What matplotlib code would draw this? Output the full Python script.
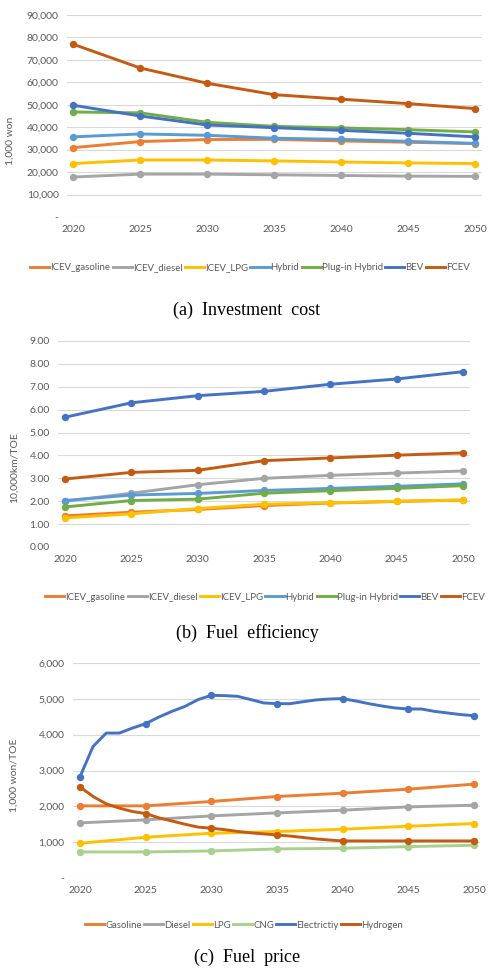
import numpy as np
import matplotlib.pyplot as plt
from matplotlib.ticker import FuncFormatter

plt.rcParams['font.family'] = ['Lato', 'DejaVu Sans']

# ---- (a) Investment cost (1,000 won) ----
years5 = np.array([2020, 2025, 2030, 2035, 2040, 2045, 2050])
vehicles = ['ICEV_gasoline', 'ICEV_diesel', 'ICEV_LPG', 'Hybrid',
            'Plug-in Hybrid', 'BEV', 'FCEV']
veh_colors = ['#ED7D31', '#A5A5A5', '#FFC000', '#5B9BD5', '#70AD47',
              '#4472C4', '#C55A11']

inv_gasoline = [30900, 33600, 34500, 34600, 33900, 33300, 32700]
inv_diesel = [17800, 19100, 19100, 18800, 18500, 18200, 18100]
inv_lpg = [23800, 25400, 25400, 25000, 24500, 24100, 23800]
inv_hybrid = [35700, 37000, 36400, 35100, 34600, 33700, 32800]
inv_phev = [46800, 46400, 42200, 40400, 39700, 38900, 37900]
inv_bev = [49800, 45000, 41000, 39800, 38600, 37300, 35700]
inv_fcev = [77000, 66400, 59600, 54500, 52500, 50500, 48300]

# ---- (b) Fuel efficiency (10,000km/TOE) ----
eff_gasoline = [1.36, 1.52, 1.64, 1.81, 1.92, 1.99, 2.05]
eff_diesel = [2.00, 2.35, 2.72, 3.00, 3.13, 3.23, 3.32]
eff_lpg = [1.27, 1.45, 1.68, 1.87, 1.93, 2.00, 2.05]
eff_hybrid = [2.03, 2.27, 2.34, 2.47, 2.56, 2.65, 2.76]
eff_phev = [1.75, 2.03, 2.09, 2.35, 2.46, 2.56, 2.68]
eff_bev = [5.67, 6.30, 6.61, 6.80, 7.11, 7.34, 7.66]
eff_fcev = [2.97, 3.26, 3.35, 3.77, 3.89, 4.01, 4.11]

# ---- (c) Fuel price (1,000 won/TOE) ----
fuels = ['Gasoline', 'Diesel', 'LPG', 'CNG', 'Electrictiy', 'Hydrogen']
fuel_colors = ['#ED7D31', '#A5A5A5', '#FFC000', '#A9D18E', '#4472C4', '#C55A11']
years1 = np.arange(2020, 2051)
price_gasoline = [2013, 2013, 2135, 2274, 2367, 2479, 2619]
price_diesel = [1538, 1622, 1733, 1817, 1892, 1985, 2032]
price_lpg = [969, 1137, 1249, 1295, 1361, 1444, 1519]
price_cng = [727, 727, 755, 811, 830, 876, 913]
price_elec = [2824, 3672, 4045, 4045, 4185, 4306, 4490, 4650, 4790, 4980,
              5098, 5090, 5070, 4980, 4885, 4865, 4865, 4920, 4970, 4995,
              5005, 4940, 4865, 4800, 4745, 4716, 4716, 4650, 4605, 4560, 4530]
price_h2 = [2544, 2274, 2070, 1950, 1855, 1800, 1680, 1590, 1500, 1420,
            1390, 1350, 1300, 1260, 1230, 1202, 1170, 1130, 1090, 1060,
            1034, 1034, 1034, 1034, 1034, 1034, 1034, 1034, 1034, 1034, 1034]

fig = plt.figure(figsize=(4.94, 9.74), dpi=100)
W, H = 494, 974
tick_col = '#595959'


def make_ax(left, right, top, bottom):
    ax = fig.add_axes([left / W, 1 - bottom / H, (right - left) / W, (bottom - top) / H])
    for s in ax.spines.values():
        s.set_visible(False)
    ax.grid(axis='y', color='#D9D9D9', linewidth=0.8)
    ax.set_axisbelow(True)
    ax.tick_params(length=0, labelsize=7.5, colors=tick_col, pad=6)
    ax.set_xticks(years5)
    return ax


def comma_dash(v, pos):
    return '-' if v == 0 else f'{v:,.0f}'


def plot_series(ax, x, y, color, mevery=1):
    ax.plot(x, y, color=color, lw=2.1, marker='o', ms=4.3, markevery=mevery,
            solid_capstyle='round')


def legend(ax, labels, colors, cx, cy):
    handles = [plt.Line2D([], [], color=c, lw=2.1) for c in colors]
    fig.legend(handles, labels, loc='center', bbox_to_anchor=(cx / W, 1 - cy / H),
               ncol=len(labels), frameon=False, fontsize=6.9, handlelength=2.0,
               handletextpad=0.1, columnspacing=0.25, labelcolor=tick_col)


# (a)
ax1 = make_ax(67, 482, 15, 217)
for y, c in zip([inv_gasoline, inv_diesel, inv_lpg, inv_hybrid, inv_phev,
                 inv_bev, inv_fcev], veh_colors):
    plot_series(ax1, years5, y, c)
ax1.set_xlim(2019.55, 2050.5)
ax1.set_ylim(0, 90000)
ax1.set_yticks(np.arange(0, 90001, 10000))
ax1.yaxis.set_major_formatter(FuncFormatter(comma_dash))
fig.text(10 / W, 1 - 141 / H, '1,000 won', rotation=90, ha='center', va='center',
         fontsize=7.5, color=tick_col)
legend(ax1, vehicles, veh_colors, 250, 268)
fig.text(247 / W, 1 - 310 / H, '(a)  Investment  cost', ha='center', va='center',
         fontsize=13, family='Liberation Serif')

# (b)
ax2 = make_ax(58, 470, 341, 547)
for y, c in zip([eff_gasoline, eff_diesel, eff_lpg, eff_hybrid, eff_phev,
                 eff_bev, eff_fcev], veh_colors):
    plot_series(ax2, years5, y, c)
ax2.set_xlim(2019.47, 2050.53)
ax2.set_ylim(0, 9)
ax2.set_yticks(np.arange(0, 9.01, 1))
ax2.yaxis.set_major_formatter(FuncFormatter(lambda v, p: f'{v:.2f}'))
fig.text(14 / W, 1 - 468 / H, '10,000km/TOE', rotation=90, ha='center', va='center',
         fontsize=7.5, color=tick_col)
legend(ax2, vehicles, veh_colors, 265, 597)
fig.text(247 / W, 1 - 633 / H, '(b)  Fuel  efficiency', ha='center', va='center',
         fontsize=13, family='Liberation Serif')

# (c)
ax3 = make_ax(73, 480, 663, 878)
for y, c in zip([price_gasoline, price_diesel, price_lpg, price_cng], fuel_colors[:4]):
    plot_series(ax3, years5, y, c)
plot_series(ax3, years1, price_elec, fuel_colors[4], mevery=5)
plot_series(ax3, years1, price_h2, fuel_colors[5], mevery=5)
ax3.set_xlim(2019.47, 2050.46)
ax3.set_ylim(0, 6000)
ax3.set_yticks(np.arange(0, 6001, 1000))
ax3.yaxis.set_major_formatter(FuncFormatter(comma_dash))
fig.text(14 / W, 1 - 775 / H, '1,000 won/TOE', rotation=90, ha='center', va='center',
         fontsize=7.5, color=tick_col)
legend(ax3, fuels, fuel_colors, 244, 925)
fig.text(247 / W, 1 - 957 / H, '(c)  Fuel  price', ha='center', va='center',
         fontsize=13, family='Liberation Serif')

fig.savefig('out.png', dpi=100)
